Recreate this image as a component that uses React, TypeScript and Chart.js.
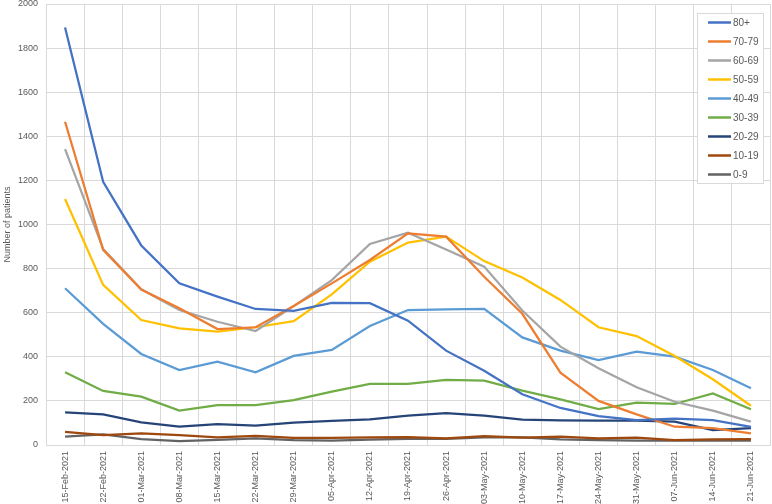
import React, { useEffect, useRef } from "react";
import { Chart, registerables } from "chart.js";

Chart.register(...registerables);

const categories = [
  "15-Feb-2021", "22-Feb-2021", "01-Mar-2021", "08-Mar-2021", "15-Mar-2021",
  "22-Mar-2021", "29-Mar-2021", "05-Apr-2021", "12-Apr-2021", "19-Apr-2021",
  "26-Apr-2021", "03-May-2021", "10-May-2021", "17-May-2021", "24-May-2021",
  "31-May-2021", "07-Jun-2021", "14-Jun-2021", "21-Jun-2021",
];

const age80plus = [1893, 1194, 905, 733, 673, 617, 608, 645, 643, 564, 428, 337, 230, 168, 131, 113, 120, 113, 82];
const age70to79 = [1466, 885, 705, 620, 526, 534, 630, 733, 839, 960, 945, 763, 595, 328, 200, 139, 83, 76, 53];
const age60to69 = [1342, 889, 706, 612, 559, 517, 630, 748, 912, 963, 887, 809, 610, 446, 348, 262, 196, 156, 106];
const age50to59 = [1116, 726, 567, 529, 514, 534, 562, 683, 831, 918, 945, 834, 760, 658, 534, 494, 404, 298, 178];
const age40to49 = [711, 549, 413, 340, 378, 330, 404, 431, 540, 612, 615, 617, 488, 428, 385, 423, 401, 340, 257];
const age30to39 = [330, 245, 219, 156, 181, 181, 204, 242, 277, 277, 295, 292, 247, 207, 163, 192, 186, 234, 162];
const age20to29 = [148, 139, 103, 83, 95, 88, 101, 109, 116, 133, 144, 133, 115, 112, 110, 110, 106, 68, 77];
const age10to19 = [60, 45, 53, 45, 35, 41, 32, 32, 35, 36, 30, 40, 33, 38, 30, 33, 22, 25, 27];
const age0to9 = [38, 48, 27, 18, 23, 30, 22, 20, 24, 28, 28, 35, 35, 25, 22, 20, 20, 20, 20];

const seriesLabels = ["80+", "70-79", "60-69", "50-59", "40-49", "30-39", "20-29", "10-19", "0-9"];
const seriesValues = [age80plus, age70to79, age60to69, age50to59, age40to49, age30to39, age20to29, age10to19, age0to9];
const seriesColors = ["#4472C4", "#ED7D31", "#A5A5A5", "#FFC000", "#5B9BD5", "#70AD47", "#264478", "#9E480E", "#636363"];

const FONT = "'Liberation Sans', Arial, sans-serif";
const TEXT = "#595959";
const GRID = "#d9d9d9";

const boxLegend = {
  id: "boxLegend",
  afterDraw(chart: any) {
    const ctx = chart.ctx;
    const x0 = 697, y0 = 13, w = 66, h = 170;
    ctx.save();
    ctx.fillStyle = "#ffffff";
    ctx.fillRect(x0, y0, w, h);
    ctx.strokeStyle = GRID;
    ctx.lineWidth = 1;
    ctx.strokeRect(x0 + 0.5, y0 + 0.5, w, h);
    ctx.font = `10px ${FONT}`;
    ctx.textBaseline = "middle";
    ctx.fillStyle = TEXT;
    chart.data.datasets.forEach((ds: any, i: number) => {
      const y = 22.5 + i * 19;
      ctx.strokeStyle = ds.borderColor;
      ctx.lineWidth = 2.5;
      ctx.beginPath();
      ctx.moveTo(708, y);
      ctx.lineTo(731, y);
      ctx.stroke();
      ctx.fillText(ds.label, 733, y + 0.5);
    });
    ctx.restore();
  },
};

export default function App() {
  const ref = useRef<HTMLCanvasElement>(null);
  useEffect(() => {
    document.body.style.margin = "0";
    const chart = new Chart(ref.current!, {
      type: "line",
      data: {
        labels: categories,
        datasets: seriesValues.map((vals, i) => ({
          label: seriesLabels[i],
          data: vals,
          borderColor: seriesColors[i],
          backgroundColor: seriesColors[i],
          borderWidth: 2.25,
          pointRadius: 0,
          tension: 0,
          fill: false,
        })),
      },
      options: {
        animation: false,
        responsive: false,
        layout: { padding: { top: 4, right: 2, left: 0, bottom: 0 } },
        plugins: { legend: { display: false }, tooltip: { enabled: false } },
        scales: {
          x: {
            type: "category",
            offset: true,
            grid: { offset: true, color: GRID, drawTicks: false },
            border: { color: GRID },
            ticks: {
              autoSkip: false,
              minRotation: 90,
              maxRotation: 90,
              padding: 6,
              color: TEXT,
              font: { family: FONT, size: 9 },
            },
            afterFit(scale: any) {
              scale.height = 59;
            },
          },
          y: {
            min: 0,
            max: 2000,
            ticks: {
              stepSize: 200,
              color: TEXT,
              font: { family: FONT, size: 9 },
              padding: 8,
              callback: (v: any) => String(v),
            },
            grid: { color: GRID, drawTicks: false },
            border: { color: GRID },
            title: {
              display: true,
              text: "Number of patients",
              color: TEXT,
              font: { family: FONT, size: 9 },
              padding: { top: 2, bottom: 0 },
            },
            afterFit(scale: any) {
              scale.width = 46;
              scale.paddingTop = 0;
              scale.paddingBottom = 0;
            },
          },
        },
      },
      plugins: [boxLegend],
    });
    return () => chart.destroy();
  }, []);
  return <canvas ref={ref} width={772} height={504} style={{ display: "block" }} />;
}
